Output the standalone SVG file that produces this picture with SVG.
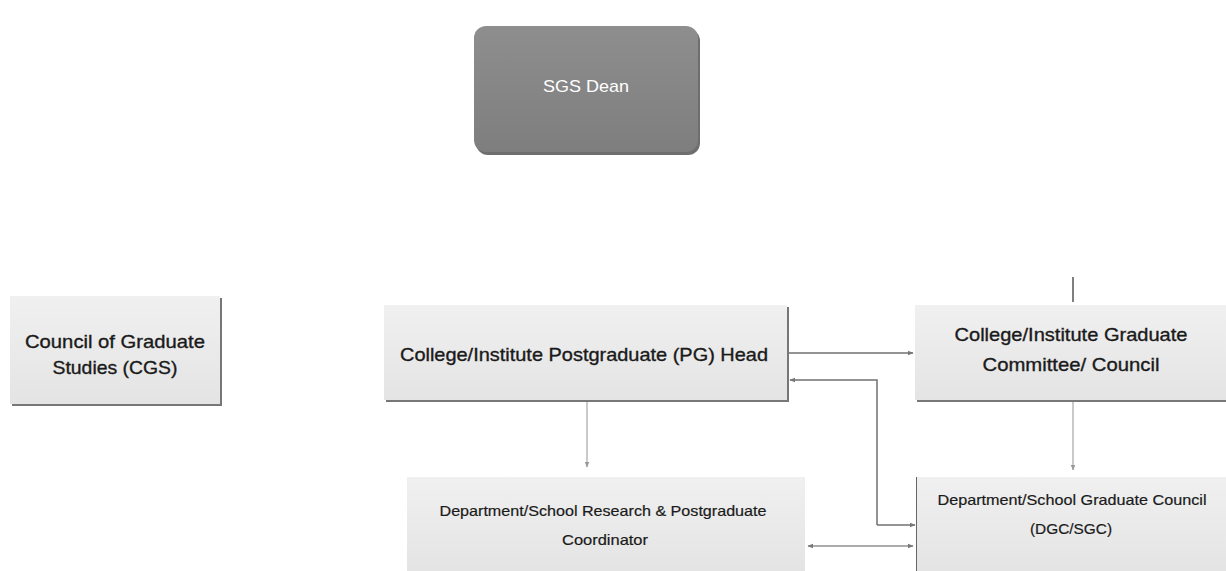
<svg xmlns="http://www.w3.org/2000/svg" width="1226" height="571" viewBox="0 0 1226 571">
<defs>
<linearGradient id="gDean" x1="0" y1="0" x2="0" y2="1">
<stop offset="0" stop-color="#8e8e8e"/><stop offset="1" stop-color="#7e7e7e"/>
</linearGradient>
<linearGradient id="gBox" x1="0" y1="0" x2="0" y2="1">
<stop offset="0" stop-color="#f0f0f0"/><stop offset="1" stop-color="#e4e4e4"/>
</linearGradient>
<marker id="ah" viewBox="0 0 10 10" refX="9" refY="5" markerWidth="6" markerHeight="6" orient="auto-start-reverse" markerUnits="userSpaceOnUse">
<path d="M0,1 L10,5 L0,9 z" fill="#777"/>
</marker>
<marker id="ahl" viewBox="0 0 10 10" refX="9" refY="5" markerWidth="6" markerHeight="6" orient="auto" markerUnits="userSpaceOnUse">
<path d="M0,1 L10,5 L0,9 z" fill="#999"/>
</marker>
</defs>
<style>
.box{fill:url(#gBox);}
.sh{fill:#777;}
.t{font-family:"Liberation Sans",Arial,sans-serif;fill:#1a1a1a;text-anchor:middle;stroke:#1a1a1a;stroke-width:0.35;}
.big{font-size:19px;}
.sm{font-size:15px;stroke-width:0.2;}
.con{fill:none;stroke:#707070;stroke-width:1.5;}
.lt{fill:none;stroke:#b8b8b8;stroke-width:1.5;}
</style>
<rect width="1226" height="571" fill="#ffffff"/>

<g id="connectors">
<line class="lt" x1="1073" y1="277" x2="1073" y2="302" style="stroke:#555"/>
<line class="con" x1="787" y1="353" x2="913" y2="353" marker-end="url(#ah)"/>
<polyline class="con" points="877,525 877,380 790,380" marker-end="url(#ah)"/>
<line class="con" x1="877" y1="525" x2="915" y2="525" marker-end="url(#ah)"/>
<line class="lt" x1="587" y1="402" x2="587" y2="467" marker-end="url(#ahl)"/>
<line class="lt" x1="1073" y1="402" x2="1073" y2="470" marker-end="url(#ahl)"/>
<line class="lt" x1="808" y1="546" x2="913" y2="546" style="stroke:#909090" marker-start="url(#ah)" marker-end="url(#ah)"/>
</g>

<g id="sgs-dean">
<rect x="476" y="29" width="224" height="126" rx="12" fill="#6e6e6e"/>
<rect x="474" y="26" width="224" height="126" rx="12" fill="url(#gDean)"/>
<text class="t" x="586" y="92" style="font-size:17px;fill:#ffffff;stroke:none" textLength="86" lengthAdjust="spacingAndGlyphs">SGS Dean</text>
</g>

<g id="cgs">
<rect class="sh" x="12" y="298" width="210" height="108"/>
<rect class="box" x="10" y="296" width="210" height="108"/>
<text class="t big" x="115" y="348" textLength="180" lengthAdjust="spacingAndGlyphs">Council of Graduate</text>
<text class="t big" x="115" y="374" textLength="125" lengthAdjust="spacingAndGlyphs">Studies (CGS)</text>
</g>

<g id="pg-head">
<rect class="sh" x="386" y="307" width="403" height="95"/>
<rect class="box" x="384" y="305" width="403" height="95"/>
<text class="t big" x="584" y="361" textLength="368" lengthAdjust="spacingAndGlyphs">College/Institute Postgraduate (PG) Head</text>
</g>

<g id="graduate-committee">
<rect class="sh" x="917" y="307" width="311" height="95"/>
<rect class="box" x="915" y="305" width="311" height="95"/>
<text class="t big" x="1071" y="341" textLength="233" lengthAdjust="spacingAndGlyphs">College/Institute Graduate</text>
<text class="t big" x="1071" y="371" textLength="177" lengthAdjust="spacingAndGlyphs">Committee/ Council</text>
</g>

<g id="dept-coordinator">
<rect class="box" x="407" y="477" width="398" height="94"/>
<text class="t sm" x="603" y="516" textLength="327" lengthAdjust="spacingAndGlyphs">Department/School Research &amp; Postgraduate</text>
<text class="t sm" x="605" y="545" textLength="86" lengthAdjust="spacingAndGlyphs">Coordinator</text>
</g>

<g id="dept-council">
<rect x="916" y="477" width="1.5" height="94" fill="#666"/>
<rect class="box" x="917" y="477" width="309" height="94"/>
<text class="t sm" x="1072" y="505" textLength="269" lengthAdjust="spacingAndGlyphs">Department/School Graduate Council</text>
<text class="t sm" x="1071" y="534" textLength="82" lengthAdjust="spacingAndGlyphs">(DGC/SGC)</text>
</g>
</svg>
